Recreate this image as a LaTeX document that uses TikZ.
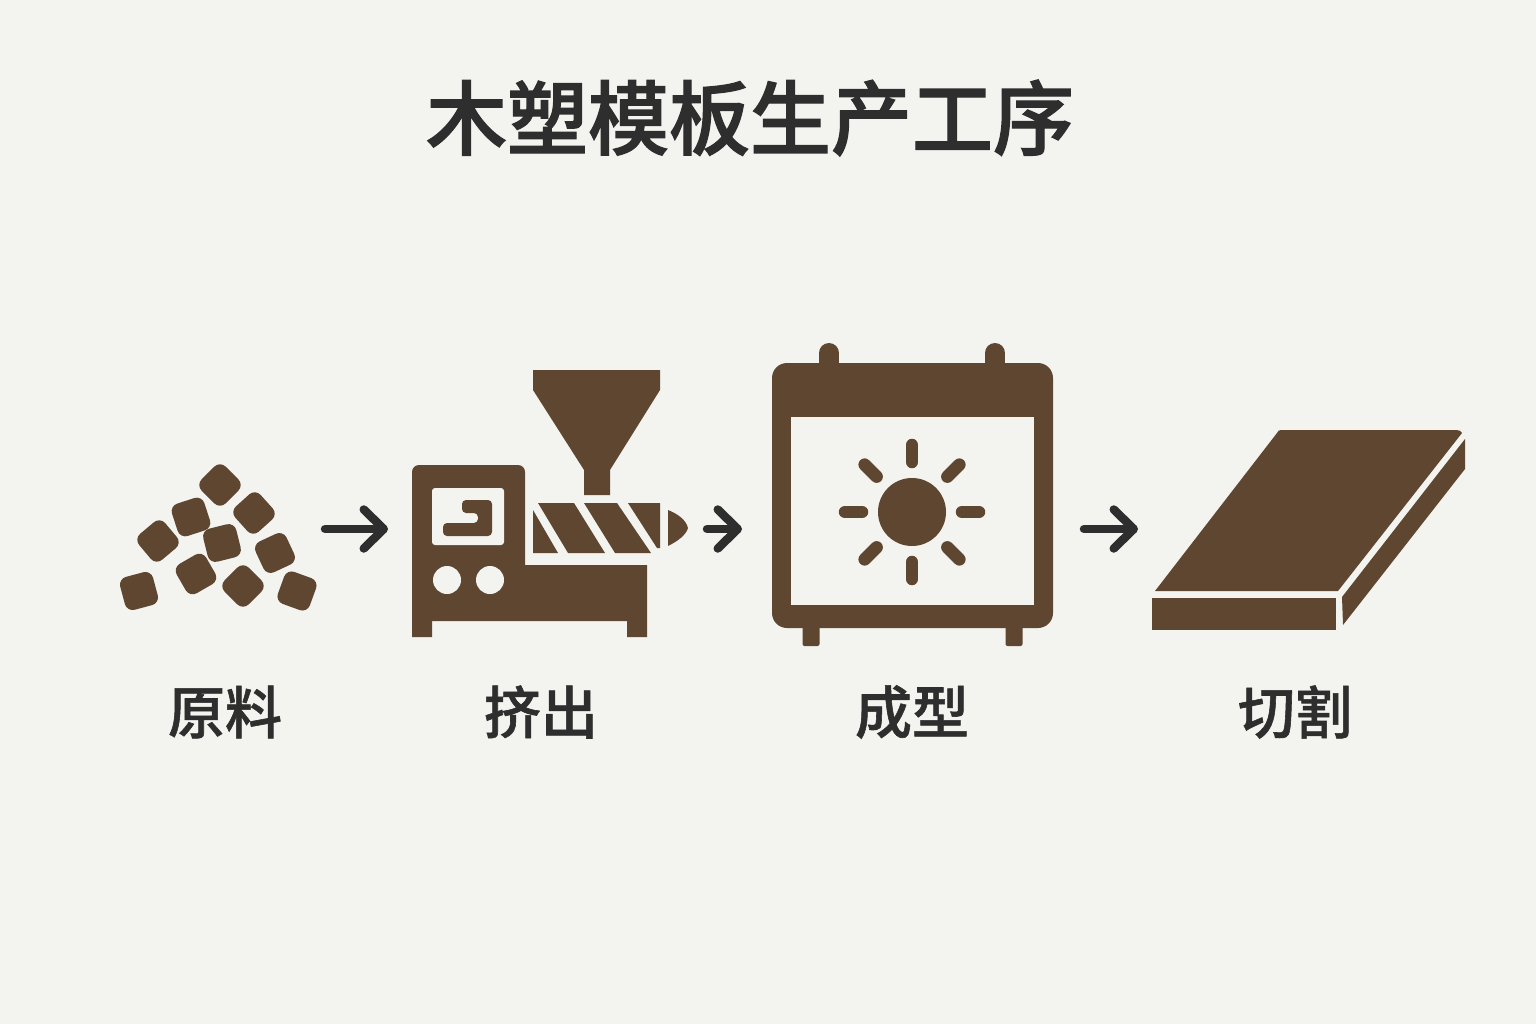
\documentclass[tikz,border=0pt]{standalone}
\usepackage{fontspec}
\newfontfamily\titlefont[FakeBold=1.5]{Noto Sans CJK SC Medium}
\newfontfamily\captionfont[FakeBold=1]{Noto Sans CJK SC Medium}
\usetikzlibrary{arrows.meta}
\definecolor{wood}{HTML}{5E4630}
\definecolor{paper}{HTML}{F3F3EF}
\definecolor{ink}{HTML}{2E2E2E}
\tikzstyle{arrow} = [ink,line width=8.5pt,line cap=round,-{Straight Barb[length=20pt,width=39pt,round]}]
\tikzstyle{solid} = [fill=wood,draw=none]
\tikzstyle{hole} = [fill=paper,draw=none]
\tikzstyle{pellet} = [solid,rounded corners=8pt,minimum size=34pt,inner sep=0pt]
\tikzstyle{ray} = [wood,line width=12.5pt,line cap=round]
\tikzstyle{iconbox} = [inner sep=0pt,outer sep=0pt,minimum height=280pt]
\tikzstyle{title} = [ink,font=\titlefont\fontsize{81}{81}\selectfont]
\tikzstyle{caption} = [ink,font=\captionfont\fontsize{57}{57}\selectfont]

\begin{document}
\begin{tikzpicture}[x=1pt,y=-1pt]
	\def \sunx {912}
	\def \suny {512}
	\useasboundingbox (0,0) rectangle (1536,1024);
	\fill [paper] (0,0) rectangle (1536,1024);
	\node (heading) at (750,118) [title] {木塑模板生产工序};
	\begin{scope}
		\node (raw) at (221.5,529) [iconbox,minimum width=207pt] {};
		\foreach \x/\y/\a [count=\i] in {220/485/45,254/513/42,191/517/18,158/541/40,222/543/14,275/553/25,196/574/30,243/586/45,139/591/15,297/591/70} {
			\node (pellet\i) at (\x,\y) [pellet,rotate=\a] {};
		}
	\end{scope}
	\begin{scope}
		\node (press) at (547.5,529) [iconbox,minimum width=319pt] {};
		\path [solid,rounded corners=7pt] (412,637) -- (412,465) -- (525,465) -- (525,520) [sharp corners] -- (525,565) -- (647,565) -- (647,637) -- (627,637) -- (627,621) -- (432,621) -- (432,637) -- cycle;
		\path [hole,rounded corners=3pt] (432,488) rectangle (504,545);
		\path [solid,rounded corners=4pt] (462,500) -- (492,500) -- (492,536) -- (443,536) -- (443,523) -- (478,523) -- (478,513) -- (462,513) -- cycle;
		\foreach \x in {447,490} {
			\path [hole] (\x,580) circle (14);
		}
		\path [solid] (533,370) -- (660,370) -- (660,390) -- (610,470) -- (610,495) -- (584,495) -- (584,470) -- (533,390) -- cycle;
		\path [solid] (533,510) -- (558,553) -- (533,553) -- cycle;
		\path [solid] (538,503) -- (574,503) -- (605,553) -- (568,553) -- cycle;
		\path [solid] (584,503) -- (617,503) -- (651,553) -- (615,553) -- cycle;
		\path [solid] (628,503) -- (660,503) -- (660,548) -- (657,548) -- cycle;
		\path [solid] (668,510) .. controls (678,514) and (686,520) .. (688,528) .. controls (686,535) and (678,541) .. (668,546) -- cycle;
	\end{scope}
	\begin{scope}
		\node (mold) at (913,529) [iconbox,minimum width=342pt] {};
		\foreach \x in {829,995} {
			\draw [wood,line width=20pt,line cap=round] (\x,353) -- (\x,375);
		}
		\foreach \x in {811,1014} {
			\path [solid,rounded corners=2pt] (\x-8.5,620) rectangle (\x+8.5,646);
		}
		\path [solid,rounded corners=15pt] (772,363) rectangle (1053,628);
		\path [hole] (791,417) rectangle (1034,605);
		\path [solid] (\sunx,\suny) circle (34);
		\foreach \a in {0,45,...,315} {
			\draw [ray,shift={(\sunx,\suny)}] (\a:50) -- (\a:67);
		}
	\end{scope}
	\begin{scope}
		\node (board) at (1304,529) [iconbox,minimum width=332pt] {};
		\path [solid] (1155,591) -- (1277,433) .. controls (1278,431) and (1279,430) .. (1281,430) -- (1456,430) .. controls (1459,430) and (1461,431) .. (1462,433) -- (1338,591) -- cycle;
		\path [solid] (1152,598) rectangle (1336,630);
		\path [solid] (1465,439) -- (1465,469) -- (1343,625) -- (1342,597) -- cycle;
	\end{scope}
	\draw [arrow] (raw.east) -- (press.west);
	\draw [arrow] (press.east) -- (mold.west);
	\draw [arrow] (mold.east) -- (board.west);
	\node (rawlabel) at (225,712) [caption] {原料};
	\node (presslabel) at (541,712) [caption] {挤出};
	\node (moldlabel) at (912,712) [caption] {成型};
	\node (boardlabel) at (1295,712) [caption] {切割};
\end{tikzpicture}
\end{document}
